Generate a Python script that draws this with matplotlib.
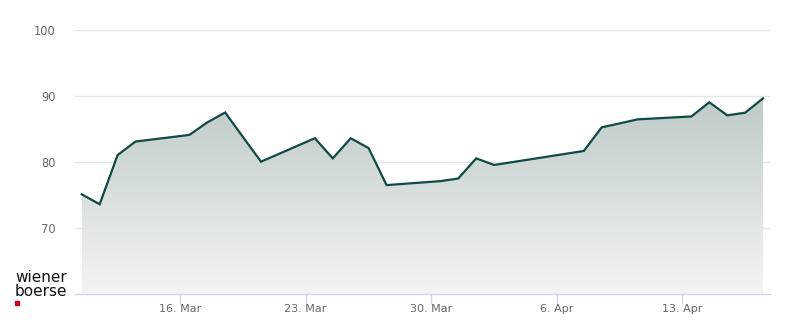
import numpy as np
import pandas as pd
import matplotlib
matplotlib.use('Agg')
import matplotlib.pyplot as plt
import matplotlib.dates as mdates
from matplotlib.colors import LinearSegmentedColormap

# trading days and closing values
dates = ['2026-03-10', '2026-03-11', '2026-03-12', '2026-03-13',
         '2026-03-16', '2026-03-17', '2026-03-18', '2026-03-19', '2026-03-20',
         '2026-03-23', '2026-03-24', '2026-03-25', '2026-03-26', '2026-03-27',
         '2026-03-30', '2026-03-31', '2026-04-01', '2026-04-02',
         '2026-04-07', '2026-04-08', '2026-04-09', '2026-04-10',
         '2026-04-13', '2026-04-14', '2026-04-15', '2026-04-16', '2026-04-17']
values = [75.1, 73.6, 81.05, 83.1,
          84.1, 86.0, 87.5, 83.75, 80.05,
          83.6, 80.55, 83.6, 82.1, 76.5,
          77.1, 77.5, 80.55, 79.55,
          81.67, 85.25, 85.85, 86.46,
          86.9, 89.05, 87.07, 87.47, 89.65]
tick_dates = ['2026-03-16', '2026-03-23', '2026-03-30', '2026-04-06', '2026-04-13']
tick_labels = ['16. Mar', '23. Mar', '30. Mar', '6. Apr', '13. Apr']
y_ticks = [70, 80, 90, 100]

x = mdates.date2num(pd.to_datetime(dates)) + 0.52
y = np.array(values)
xt = mdates.date2num(pd.to_datetime(tick_dates))

fig = plt.figure(figsize=(8, 3.24), dpi=100)
ax = fig.add_axes([75 / 800, 1 - 294 / 324, 695 / 800, 284 / 324])

x0 = xt[0] - 105 / 17.93
x1 = xt[0] + 590 / 17.93
y_top = 100 + 20 / 6.6

# gradient fill under the line
ymin, ymax = 60, y.max()
cmap = LinearSegmentedColormap.from_list('fade', ['#f3f5f5', '#bfcac9'])
grad = np.linspace(0, 1, 256).reshape(-1, 1)
im = ax.imshow(grad, extent=[x[0], x[-1], ymin, ymax], origin='lower',
               aspect='auto', cmap=cmap, zorder=1)
poly = ax.fill_between(x, y, 60, color='none', lw=0)
im.set_clip_path(poly.get_paths()[0], transform=ax.transData)
ax.set_xlim(x0, x1)
ax.set_ylim(60, y_top)

ax.plot(x, y, color='#0f4a45', lw=1.6, zorder=3, solid_joinstyle='miter')

for v in y_ticks:
    ax.axhline(v, color='#e6e6e6', lw=1, zorder=0)

for s in ['top', 'right', 'left']:
    ax.spines[s].set_visible(False)
ax.spines['bottom'].set_color('#ccd6eb')
ax.spines['bottom'].set_linewidth(1)
ax.spines['bottom'].set_zorder(4)

ax.set_xticks(xt)
ax.set_xticklabels(tick_labels)
ax.tick_params(axis='x', length=7.5, width=1, color='#ccd6eb', labelsize=8,
               labelcolor='#666666', pad=0)
ax.set_yticks(y_ticks)
ax.tick_params(axis='y', length=0, labelsize=8.3, labelcolor='#666666', pad=14)

# logo
fig.text(15 / 800, 1 - 277 / 324, 'wiener', fontsize=11, color='#111111',
         va='center', ha='left')
fig.text(15 / 800, 1 - 291 / 324, 'boerse', fontsize=11, color='#111111',
         va='center', ha='left')
fig.patches.append(plt.Rectangle((15 / 800, 1 - 305 / 324), 4 / 800, 4 / 324,
                                 transform=fig.transFigure, color='#d0021b'))

fig.savefig('out.png', dpi=100)
